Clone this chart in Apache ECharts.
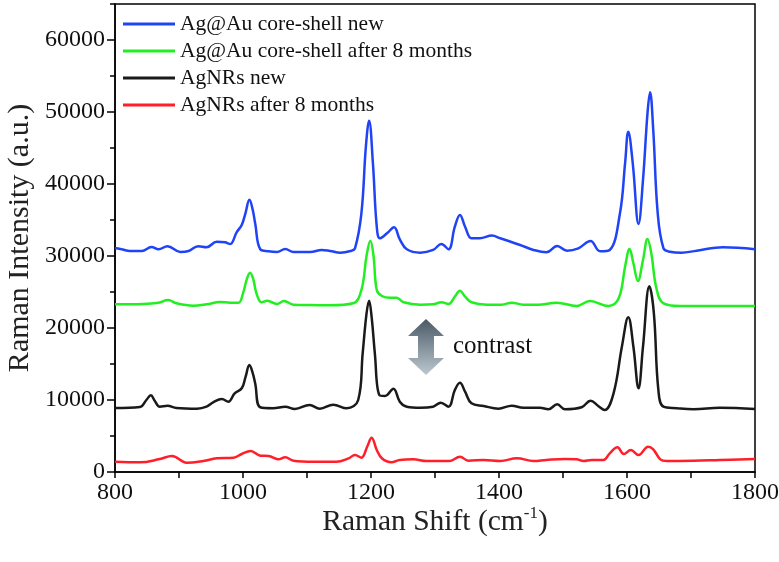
<!DOCTYPE html>
<html>
<head>
<meta charset="utf-8">
<script src="https://cdn.jsdelivr.net/npm/echarts@6/dist/echarts.min.js"></script>
<style>html,body{margin:0;padding:0;background:#fff}#c{width:779px;height:562px}</style>
</head>
<body>
<div id="c"></div>
<script>
var seriesNames = ['Ag@Au core-shell new', 'Ag@Au core-shell after 8 months', 'AgNRs new', 'AgNRs after 8 months'];
var xTicks = [800, 1000, 1200, 1400, 1600, 1800];
var yTicks = [0, 10000, 20000, 30000, 40000, 50000, 60000];

var blueData = [[800,31100],[812,30900],[823,30700],[842,30700],[857,31250],[868,30930],[882,31350],[902,30560],[915,30700],[930,31350],[943,31210],[959,31990],[972,31900],[980,31670],[990,33290],[998,34300],[1004,36000],[1010,37800],[1015,36500],[1019,34540],[1027,30930],[1040,30650],[1053,30560],[1066,30970],[1079,30560],[1105,30560],[1123,30840],[1136,30700],[1152,30460],[1168,30700],[1175,31070],[1185,35930],[1192,45190],[1197,48800],[1203,42870],[1209,34070],[1214,32460],[1225,33150],[1236,33990],[1245,32300],[1256,30930],[1277,30460],[1297,30840],[1310,31670],[1321,30930],[1331,34070],[1339,35700],[1347,34070],[1357,32460],[1370,32460],[1389,32830],[1402,32460],[1415,32090],[1433,31530],[1454,30840],[1474,30510],[1491,31390],[1506,30740],[1524,31070],[1543,32090],[1558,30650],[1573,30840],[1589,35930],[1597,42870],[1602,47270],[1609,42870],[1618,34450],[1625,40560],[1632,49820],[1636,52740],[1641,47500],[1648,35930],[1657,31070],[1667,30600],[1685,30460],[1709,30740],[1750,31210],[1800,30950]];

var greenData = [[800,23290],[844,23340],[868,23520],[883,23890],[896,23430],[922,23100],[943,23290],[964,23610],[980,23520],[993,23520],[1000,24820],[1006,26800],[1011,27690],[1016,26800],[1021,24820],[1029,23570],[1038,23800],[1053,23340],[1064,23750],[1079,23240],[1105,23200],[1136,23150],[1172,23430],[1185,25280],[1193,30000],[1199,32130],[1204,30000],[1209,25280],[1217,24450],[1230,24210],[1240,24210],[1251,23570],[1277,23240],[1297,23290],[1310,23570],[1321,23340],[1331,24350],[1339,25180],[1347,24350],[1357,23570],[1381,23240],[1404,23240],[1420,23520],[1438,23240],[1461,23240],[1490,23520],[1521,23060],[1542,23750],[1571,23060],[1587,24120],[1597,28520],[1604,30970],[1610,28990],[1617,26530],[1625,29450],[1632,32360],[1638,30370],[1646,25510],[1657,23430],[1683,23060],[1735,23060],[1800,23060]];

var blackData = [[800,8890],[839,9030],[849,10000],[856,10650],[862,9900],[870,9070],[882,9210],[896,8890],[928,8790],[943,9070],[954,9720],[967,10140],[977,9770],[987,10930],[998,11630],[1004,13200],[1010,14860],[1015,13800],[1019,12320],[1027,8990],[1047,8850],[1066,9070],[1081,8750],[1104,9310],[1120,8800],[1141,9350],[1162,8850],[1180,10000],[1187,16490],[1193,22000],[1197,23800],[1201,21500],[1206,16490],[1213,10700],[1222,10560],[1235,11570],[1245,9770],[1256,9070],[1277,8930],[1297,9070],[1309,9630],[1321,9070],[1331,11390],[1339,12400],[1347,11150],[1357,9540],[1376,9170],[1399,8800],[1420,9210],[1438,8930],[1464,8930],[1477,8710],[1491,9400],[1503,8710],[1529,8990],[1543,9900],[1555,9170],[1565,8610],[1579,10930],[1592,17400],[1602,21500],[1610,17400],[1618,11630],[1625,17400],[1635,25800],[1642,22040],[1649,11390],[1657,9070],[1678,8850],[1704,8710],[1745,8930],[1800,8750]];

var redData = [[800,1430],[839,1340],[870,1800],[889,2220],[912,1290],[938,1530],[959,1900],[985,1990],[998,2500],[1012,2920],[1027,2270],[1040,2220],[1055,1760],[1066,2040],[1079,1570],[1110,1430],[1146,1430],[1165,1900],[1175,2360],[1185,1990],[1194,3510],[1201,4770],[1209,3060],[1217,1900],[1232,1340],[1245,1670],[1266,1760],[1287,1530],[1323,1530],[1339,2130],[1352,1570],[1376,1670],[1402,1530],[1428,1900],[1454,1530],[1474,1670],[1503,1800],[1521,1760],[1532,1530],[1545,1670],[1563,1670],[1573,2590],[1585,3430],[1595,2500],[1606,3060],[1618,2360],[1633,3510],[1641,3150],[1652,1760],[1662,1530],[1704,1570],[1745,1670],[1800,1800]];

var colors = ['#1f43f5', '#22ee22', '#1a1a1a', '#ff1f2a'];
var allData = [blueData, greenData, blackData, redData];
var serif = 'Liberation Serif';

var chart = echarts.init(document.getElementById('c'));
var series = allData.map(function (d, i) {
  return {
    name: seriesNames[i], type: 'line', data: d, smooth: 0.4,
    showSymbol: false, symbol: 'none', xAxisIndex: 0, yAxisIndex: 0,
    lineStyle: { color: colors[i], width: 2.5 }, itemStyle: { color: colors[i] }
  };
});
var fmtLabel = function (v) { return yTicks.indexOf(v) >= 0 ? String(v) : ''; };
var fmtX = function (v) { return xTicks.indexOf(v) >= 0 ? String(v) : ''; };
chart.setOption({
  animation: false,
  grid: { left: 115, right: 24, top: 4, bottom: 90, outerBoundsMode: 'none', containLabel: false, show: true, borderColor: '#000', borderWidth: 1.5, backgroundColor: 'transparent' },
  legend: {
    orient: 'vertical', left: 123, top: 13, padding: 0, itemGap: 5,
    itemWidth: 52, itemHeight: 3, icon: 'rect',
    textStyle: { fontFamily: serif, fontSize: 21.5, color: '#111' },
    data: seriesNames
  },
  xAxis: [{
    type: 'value', min: 800, max: 1800, interval: 200,
    name: '{a|Raman Shift (cm}{s|-1}{a|)}', nameLocation: 'middle', nameGap: 33, nameMoveOverlap: false,
    nameTextStyle: { rich: { a: { fontFamily: serif, fontSize: 29.5, color: '#222', lineHeight: 34 }, s: { fontFamily: serif, fontSize: 17, color: '#222', verticalAlign: 'top', lineHeight: 34, padding: [0, 0, 14, 0] } } },
    axisLine: { lineStyle: { color: '#000', width: 1.5 } },
    axisTick: { show: true, inside: false, length: 6, lineStyle: { color: '#000', width: 1.5 } },
    minorTick: { show: true, splitNumber: 2, length: 6, lineStyle: { color: '#000', width: 1.5 } },
    splitLine: { show: false },
    axisLabel: { fontFamily: serif, fontSize: 24, color: '#111', margin: 9, formatter: fmtX }
  }],
  yAxis: [{
    type: 'value', min: 0, max: 65000, interval: 10000,
    name: 'Raman Intensity (a.u.)', nameLocation: 'middle', nameGap: 80, nameRotate: 90, nameMoveOverlap: false,
    nameTextStyle: { fontFamily: serif, fontSize: 30, color: '#222' },
    axisLine: { lineStyle: { color: '#000', width: 1.5 } },
    axisTick: { show: true, inside: false, length: 8, lineStyle: { color: '#000', width: 1.5 } },
    splitLine: { show: false },
    axisLabel: { fontFamily: serif, fontSize: 24, color: '#111', margin: 10, showMaxLabel: false, formatter: fmtLabel }
  }, {
    type: 'value', min: 0, max: 65000, interval: 5000, position: 'left',
    axisLine: { show: false },
    axisTick: { show: true, inside: false, length: 5, lineStyle: { color: '#000', width: 1.5 } },
    splitLine: { show: false },
    axisLabel: { show: false }
  }],
  graphic: [{
    type: 'polygon',
    shape: { points: [[426, 319], [444, 336], [434, 336], [434, 358], [444, 358], [426, 375], [408, 358], [418, 358], [418, 336], [408, 336]] },
    style: { fill: new echarts.graphic.LinearGradient(0, 0, 0, 1, [{ offset: 0, color: '#4a5a66' }, { offset: 1, color: '#bcc8d0' }]) }
  }, {
    type: 'text', x: 453, y: 346,
    style: { text: 'contrast', fontFamily: serif, fontSize: 25, fill: '#111', verticalAlign: 'middle' }
  }],
  series: series
});
</script>
</body>
</html>
